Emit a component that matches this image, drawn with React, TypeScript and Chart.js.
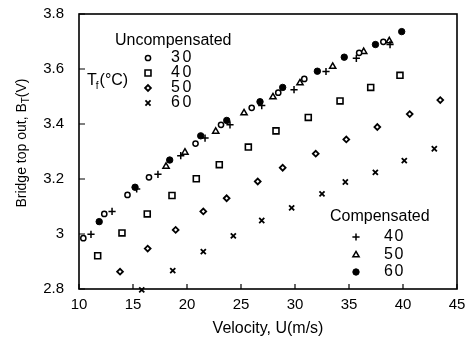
import React, { useEffect, useRef } from 'react';
import { Chart, registerables } from 'chart.js';
import { drawPoint } from 'chart.js/helpers';

Chart.register(...registerables);

// Axis ticks
const velocityTicks = [10, 15, 20, 25, 30, 35, 40, 45];
const bridgeTicks = [2.8, 3, 3.2, 3.4, 3.6, 3.8];

// Uncompensated sensor, fluid temperature 30, 40, 50, 60 °C
const unc30Velocity = [10.4, 12.34, 14.49, 16.48, 20.79, 23.15, 25.99, 28.45, 30.86, 35.94, 38.18];
const unc30Bridge = [2.985, 3.073, 3.142, 3.206, 3.329, 3.397, 3.459, 3.514, 3.564, 3.659, 3.699];

const unc40Velocity = [11.73, 13.98, 16.32, 18.61, 20.86, 22.99, 25.68, 28.24, 31.23, 34.17, 37.01, 39.72];
const unc40Bridge = [2.921, 3.004, 3.073, 3.14, 3.201, 3.252, 3.316, 3.375, 3.424, 3.484, 3.533, 3.577];

const unc50Velocity = [13.8, 16.36, 18.95, 21.51, 23.67, 26.55, 28.86, 31.92, 34.75, 37.62, 40.62, 43.45];
const unc50Bridge = [2.863, 2.947, 3.015, 3.082, 3.13, 3.191, 3.241, 3.292, 3.344, 3.389, 3.436, 3.487];

const unc60Velocity = [15.81, 18.68, 21.51, 24.29, 26.92, 29.69, 32.5, 34.66, 37.44, 40.12, 42.9];
const unc60Bridge = [2.797, 2.867, 2.936, 2.993, 3.049, 3.095, 3.146, 3.189, 3.224, 3.267, 3.31];

// Compensated sensor, fluid temperature 40, 50, 60 °C
const comp40Velocity = [11.11, 13.06, 15.34, 17.31, 19.42, 21.67, 23.98, 26.92, 29.91, 32.87, 35.68, 38.8];
const comp40Bridge = [2.999, 3.082, 3.164, 3.217, 3.285, 3.349, 3.397, 3.467, 3.525, 3.591, 3.639, 3.689];

const comp50Velocity = [18.06, 19.81, 22.66, 25.28, 27.96, 30.46, 33.49, 36.36, 38.73];
const comp50Bridge = [3.246, 3.297, 3.373, 3.44, 3.498, 3.549, 3.609, 3.663, 3.702];

const comp60Velocity = [11.87, 15.19, 18.4, 21.27, 23.68, 26.76, 28.86, 32.07, 34.56, 37.45, 39.88];
const comp60Bridge = [3.045, 3.17, 3.269, 3.357, 3.413, 3.481, 3.533, 3.592, 3.643, 3.689, 3.736];

const uncompensatedTemps = ['30', '40', '50', '60'];
const compensatedTemps = ['40', '50', '60'];

const FONT = "'Liberation Sans', Arial, Helvetica, sans-serif";

type Marker = {
  pointStyle: string;
  radius: number;
  borderWidth: number;
  fill: string;
};

const markers: Record<string, Marker> = {
  u30: { pointStyle: 'circle', radius: 2.6, borderWidth: 1.5, fill: '#fff' },
  u40: { pointStyle: 'rect', radius: 4.2, borderWidth: 1.6, fill: '#fff' },
  u50: { pointStyle: 'rectRot', radius: 2.9, borderWidth: 1.8, fill: '#fff' },
  u60: { pointStyle: 'crossRot', radius: 3.6, borderWidth: 1.8, fill: '#000' },
  c40: { pointStyle: 'cross', radius: 3.6, borderWidth: 1.5, fill: '#000' },
  c50: { pointStyle: 'triangle', radius: 3.6, borderWidth: 1.5, fill: '#fff' },
  c60: { pointStyle: 'circle', radius: 3.2, borderWidth: 1, fill: '#000' },
};

const toPoints = (xs: number[], ys: number[]) => xs.map((x, i) => ({ x, y: ys[i] }));

const makeSet = (label: string, xs: number[], ys: number[], m: Marker) => ({
  label,
  data: toPoints(xs, ys),
  pointStyle: m.pointStyle,
  pointRadius: m.radius,
  pointHoverRadius: m.radius,
  pointBorderWidth: m.borderWidth,
  pointBorderColor: '#000',
  pointBackgroundColor: m.fill,
  showLine: false,
  clip: false as const,
});

function drawMarker(ctx: CanvasRenderingContext2D, m: Marker, x: number, y: number) {
  ctx.save();
  ctx.strokeStyle = '#000';
  ctx.fillStyle = m.fill;
  ctx.lineWidth = m.borderWidth;
  drawPoint(ctx, { pointStyle: m.pointStyle as any, radius: m.radius, borderWidth: m.borderWidth, rotation: 0 }, x, y);
  ctx.restore();
}

const framePlugin = {
  id: 'frameAndTicks',
  beforeDatasetsDraw(chart: any) {
    const { ctx, chartArea: a, scales } = chart;
    ctx.save();
    ctx.strokeStyle = '#000';
    ctx.lineWidth = 1.6;
    ctx.strokeRect(a.left, a.top, a.right - a.left, a.bottom - a.top);
    ctx.lineWidth = 1.2;
    ctx.beginPath();
    velocityTicks.forEach((v) => {
      const px = scales.x.getPixelForValue(v);
      ctx.moveTo(px, a.bottom);
      ctx.lineTo(px, a.bottom - 5);
    });
    bridgeTicks.forEach((v) => {
      const py = scales.y.getPixelForValue(v);
      ctx.moveTo(a.left, py);
      ctx.lineTo(a.left + 6, py);
    });
    ctx.stroke();
    ctx.restore();
  },
  afterDraw(chart: any) {
    const { ctx, chartArea: a } = chart;
    ctx.save();
    ctx.fillStyle = '#000';
    ctx.textBaseline = 'middle';

    // x-axis title
    ctx.font = `16px ${FONT}`;
    ctx.textAlign = 'center';
    ctx.fillText('Velocity, U(m/s)', (a.left + a.right) / 2, 329);

    // y-axis title with subscript
    ctx.save();
    ctx.translate(22, 143);
    ctx.rotate(-Math.PI / 2);
    ctx.textAlign = 'left';
    const mainFont = `14px ${FONT}`;
    const subFont = `10px ${FONT}`;
    const p1 = 'Bridge top out, B';
    const p2 = 'T';
    const p3 = '(V)';
    ctx.font = mainFont;
    const w1 = ctx.measureText(p1).width;
    const w3 = ctx.measureText(p3).width;
    ctx.font = subFont;
    const w2 = ctx.measureText(p2).width;
    let x0 = -(w1 + w2 + w3) / 2;
    ctx.font = mainFont;
    ctx.fillText(p1, x0, 0);
    x0 += w1;
    ctx.font = subFont;
    ctx.fillText(p2, x0, 4);
    x0 += w2;
    ctx.font = mainFont;
    ctx.fillText(p3, x0, 0);
    ctx.restore();

    // Uncompensated legend
    ctx.textAlign = 'left';
    ctx.font = `16px ${FONT}`;
    ctx.fillText('Uncompensated', 115, 41);
    const uncKeys = ['u30', 'u40', 'u50', 'u60'];
    const uncRows = [58, 73, 88, 103];
    (ctx as any).letterSpacing = '2.5px';
    uncompensatedTemps.forEach((t, i) => {
      drawMarker(ctx, markers[uncKeys[i]], 148, uncRows[i]);
      ctx.fillStyle = '#000';
      ctx.font = `16px ${FONT}`;
      ctx.textAlign = 'left';
      ctx.textBaseline = 'middle';
      ctx.fillText(t, 171, uncRows[i]);
    });
    (ctx as any).letterSpacing = '0px';

    // T_f(°C) label
    ctx.font = `16px ${FONT}`;
    ctx.fillText('T', 87, 81);
    const wT = ctx.measureText('T').width;
    ctx.font = `10px ${FONT}`;
    ctx.fillText('f', 87 + wT - 1, 86);
    const wf = ctx.measureText('f').width;
    ctx.font = `16px ${FONT}`;
    ctx.fillText('(°C)', 87 + wT + wf, 81);

    // Compensated legend
    ctx.fillText('Compensated', 330, 217);
    const compKeys = ['c40', 'c50', 'c60'];
    const compRows = [237, 255, 272];
    (ctx as any).letterSpacing = '1.5px';
    compensatedTemps.forEach((t, i) => {
      drawMarker(ctx, markers[compKeys[i]], 356, compRows[i]);
      ctx.fillStyle = '#000';
      ctx.font = `16px ${FONT}`;
      ctx.textAlign = 'left';
      ctx.textBaseline = 'middle';
      ctx.fillText(t, 384, compRows[i]);
    });
    (ctx as any).letterSpacing = '0px';
    ctx.restore();
  },
};

export default function App() {
  const canvasRef = useRef<HTMLCanvasElement | null>(null);

  useEffect(() => {
    const canvas = canvasRef.current;
    if (!canvas) return;
    const chart = new Chart(canvas, {
      type: 'scatter',
      data: {
        datasets: [
          makeSet('Uncompensated 30', unc30Velocity, unc30Bridge, markers.u30),
          makeSet('Uncompensated 40', unc40Velocity, unc40Bridge, markers.u40),
          makeSet('Uncompensated 50', unc50Velocity, unc50Bridge, markers.u50),
          makeSet('Uncompensated 60', unc60Velocity, unc60Bridge, markers.u60),
          makeSet('Compensated 40', comp40Velocity, comp40Bridge, markers.c40),
          makeSet('Compensated 50', comp50Velocity, comp50Bridge, markers.c50),
          makeSet('Compensated 60', comp60Velocity, comp60Bridge, markers.c60),
        ] as any,
      },
      options: {
        responsive: false,
        animation: false,
        devicePixelRatio: 1,
        layout: { padding: { top: 14, right: 10, left: 0, bottom: 0 } },
        plugins: {
          legend: { display: false },
          tooltip: { enabled: false },
          title: { display: false },
        },
        scales: {
          x: {
            type: 'linear',
            min: 10,
            max: 45,
            grid: { display: false, drawTicks: false },
            border: { display: false },
            afterBuildTicks: (scale: any) => {
              scale.ticks = velocityTicks.map((v) => ({ value: v }));
            },
            afterFit: (scale: any) => {
              scale.height = 50;
              scale.paddingLeft = 0;
              scale.paddingRight = 0;
            },
            ticks: {
              color: '#000',
              padding: 7,
              maxRotation: 0,
              font: { family: FONT, size: 15 },
              callback: (v: any) => String(v),
            },
          },
          y: {
            type: 'linear',
            min: 2.8,
            max: 3.8,
            grid: { display: false, drawTicks: false },
            border: { display: false },
            afterBuildTicks: (scale: any) => {
              scale.ticks = bridgeTicks.map((v) => ({ value: v }));
            },
            afterFit: (scale: any) => {
              scale.width = 79;
              scale.paddingTop = 0;
              scale.paddingBottom = 0;
            },
            ticks: {
              color: '#000',
              padding: 15,
              font: { family: FONT, size: 15 },
              callback: (v: any) => String(Number(Number(v).toFixed(1))),
            },
          },
        },
      } as any,
      plugins: [framePlugin],
    });
    return () => chart.destroy();
  }, []);

  return (
    <div style={{ position: 'absolute', left: 0, top: 0, width: 467, height: 339, background: '#fff' }}>
      <canvas ref={canvasRef} width={467} height={339} style={{ width: 467, height: 339, display: 'block' }} />
    </div>
  );
}
